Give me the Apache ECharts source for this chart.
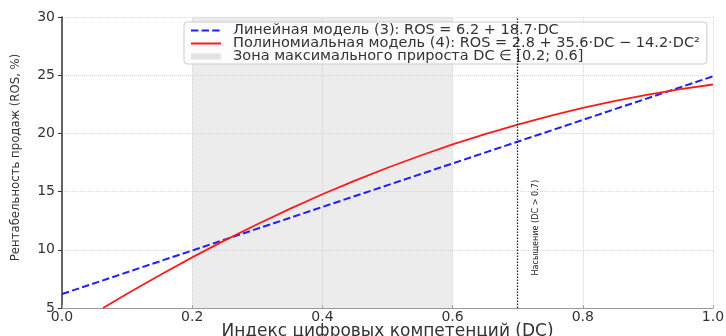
<!DOCTYPE html>
<html>
<head>
<meta charset="utf-8">
<script src="https://cdn.jsdelivr.net/npm/echarts@6/dist/echarts.min.js"></script>
<style>html,body{margin:0;padding:0;background:#fff}#c{width:726px;height:336px}</style>
</head>
<body>
<div id="c"></div>
<script>
// ---- data ----
const linearName = 'Линейная модель (3): ROS = 6.2 + 18.7·DC';
const polyName = 'Полиномиальная модель (4): ROS = 2.8 + 35.6·DC − 14.2·DC²';
const zoneName = 'Зона максимального прироста DC ∈ [0.2; 0.6]';
const dcLinear = [0.0, 1.0];
const rosLinear = [6.2, 24.9];
const dcPoly = [0.063, 0.1, 0.15, 0.2, 0.25, 0.3, 0.35, 0.4, 0.45, 0.5, 0.55, 0.6, 0.65, 0.7, 0.75, 0.8, 0.85, 0.9, 0.95, 1.0];
const rosPoly = [5.0, 6.22, 7.82, 9.35, 10.81, 12.2, 13.52, 14.77, 15.94, 17.05, 18.08, 19.05, 19.94, 20.76, 21.51, 22.19, 22.8, 23.34, 23.8, 24.2];
const zoneRange = [0.2, 0.6];
const saturationDC = 0.7;
const saturationLabel = 'Насыщение (DC > 0.7)';
const saturationLabelAt = [0.728, 11.9];
const xAxisTitle = 'Индекс цифровых компетенций (DC)';
const yAxisTitle = 'Рентабельность продаж (ROS, %)';
const xMin = 0, xMax = 1, xStep = 0.2;
const yMin = 5, yMax = 30, yStep = 5;

const zip = (a, b) => a.map((v, i) => [v, b[i]]);

const chart = echarts.init(document.getElementById('c'), null, {renderer: 'canvas'});
chart.setOption({
  animation: false,
  backgroundColor: '#ffffff',
  grid: {left: 62, right: 13, top: 17, bottom: 28, containLabel: false, outerBoundsMode: 'none'},
  legend: {
    orient: 'vertical',
    left: 184, top: 22,
    padding: [1, 7, 0, 6],
    itemGap: -2,
    itemWidth: 30, itemHeight: 6,
    backgroundColor: 'rgba(255,255,255,0.85)',
    borderColor: '#cccccc', borderWidth: 1, borderRadius: 3,
    textStyle: {fontFamily: 'DejaVu Sans', fontSize: 14.5, color: '#333', lineHeight: 13, padding: [0, 0, 0, 7]},
    data: [
      {name: linearName, itemStyle: {opacity: 0}},
      {name: polyName, itemStyle: {opacity: 0}},
      {name: zoneName, icon: 'rect', itemStyle: {color: '#e3e3e3', borderWidth: 0}}
    ],
    selectedMode: false
  },
  xAxis: {
    type: 'value', min: xMin, max: xMax, interval: xStep,
    name: xAxisTitle, nameLocation: 'middle', nameGap: 15, nameMoveOverlap: false,
    nameTextStyle: {fontFamily: 'DejaVu Sans', fontSize: 17, color: '#333'},
    axisLine: {show: true, lineStyle: {color: '#999', width: 1.2}},
    axisTick: {show: true, inside: true, length: 3, lineStyle: {color: '#999'}},
    axisLabel: {margin: 2, fontFamily: 'DejaVu Sans', fontSize: 14, color: '#333', formatter: v => v.toFixed(1)},
    splitLine: {show: true, lineStyle: {color: '#d8d8d8', type: 'dotted', width: 1}}
  },
  yAxis: {
    type: 'value', min: yMin, max: yMax, interval: yStep,
    name: yAxisTitle, nameLocation: 'middle', nameGap: 40, nameRotate: 90, nameMoveOverlap: false,
    nameTextStyle: {fontFamily: 'DejaVu Sans Condensed', fontSize: 13, color: '#333', padding: [0, 0, 0, 10]},
    axisLine: {show: true, lineStyle: {color: '#333', width: 1.5}},
    axisTick: {show: true, inside: false, length: 4, lineStyle: {color: '#333'}},
    axisLabel: {margin: 7, fontFamily: 'DejaVu Sans', fontSize: 14, color: '#333'},
    splitLine: {show: true, lineStyle: {color: '#d8d8d8', type: 'dotted', width: 1}}
  },
  series: [
    {
      name: zoneName, type: 'line', data: [], symbol: 'none',
      itemStyle: {color: '#e6e6e6'},
      markArea: {
        silent: true,
        itemStyle: {color: 'rgba(200,200,200,0.35)'},
        data: [[{xAxis: zoneRange[0]}, {xAxis: zoneRange[1]}]]
      },
      markLine: {
        silent: true, symbol: 'none',
        label: {show: false},
        lineStyle: {color: '#222', type: [1.5, 1.5], width: 1.3},
        data: [{xAxis: saturationDC}]
      },
      markPoint: {
        silent: true, symbol: 'circle', symbolSize: 0,
        label: {show: true, position: 'inside', rotate: 90, formatter: saturationLabel,
          fontFamily: 'DejaVu Sans Condensed', fontSize: 9, color: '#222'},
        data: [{coord: saturationLabelAt}]
      }
    },
    {
      name: linearName, type: 'line', data: zip(dcLinear, rosLinear),
      symbol: 'none', showSymbol: false,
      lineStyle: {color: '#1f1fff', width: 2, type: [7.4, 3.2]},
      itemStyle: {color: '#1f1fff'}
    },
    {
      name: polyName, type: 'line', data: zip(dcPoly, rosPoly),
      symbol: 'none', showSymbol: false, smooth: false,
      lineStyle: {color: '#ff1a1a', width: 1.8},
      itemStyle: {color: '#ff1a1a'}
    }
  ]
});
</script>
</body>
</html>
